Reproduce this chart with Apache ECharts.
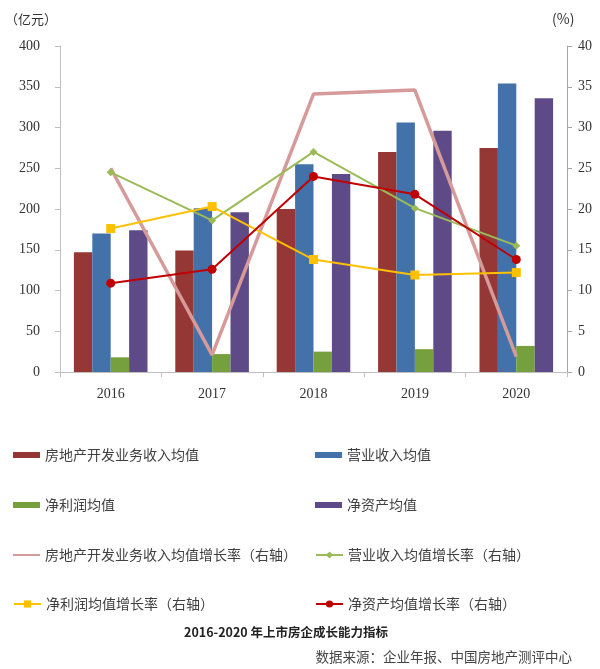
<!DOCTYPE html>
<html>
<head>
<meta charset="utf-8">
<script src="https://cdn.jsdelivr.net/npm/echarts@6/dist/echarts.min.js"></script>
<style>html,body{margin:0;padding:0;background:#fff;}#main{width:600px;height:669px;}</style>
</head>
<body>
<div id="main"></div>
<script>
var years = ['2016', '2017', '2018', '2019', '2020'];
var landDevAvg = [147, 149, 200, 270, 275];
var revenueAvg = [170, 201, 255, 306, 354];
var profitAvg = [18, 22, 25, 28, 32];
var netAssetAvg = [174, 196, 243, 296, 336];
var landDevGrowth = [25.0, 2.1, 34.1, 34.6, 1.9];
var revenueGrowth = [24.5, 18.6, 27.0, 20.1, 15.5];
var profitGrowth = [17.6, 20.3, 13.8, 11.9, 12.2];
var netAssetGrowth = [10.9, 12.6, 24.0, 21.8, 13.8];
var names = ['房地产开发业务收入均值', '营业收入均值', '净利润均值', '净资产均值',
  '房地产开发业务收入均值增长率（右轴）', '营业收入均值增长率（右轴）',
  '净利润均值增长率（右轴）', '净资产均值增长率（右轴）'];
var colors = ['#953735', '#4372AA', '#76A03E', '#5F4A88', '#D69A9A', '#9BBB59', '#FFC000', '#C00000'];

var cjk = '"Noto Sans CJK SC", sans-serif';
var serif = '"Liberation Serif", serif';
var chart = echarts.init(document.getElementById('main'));

function legendAt(i, left, top, kind) {
  var item = { name: names[i] };
  var h = 9;
  if (kind === 'bar') { item.icon = 'rect'; h = 6; }
  if (kind === 'plain') { item.icon = 'rect'; h = 2; }
  return {
    data: [item], left: left, top: top, orient: 'horizontal',
    itemWidth: 27, itemHeight: h, padding: 0,
    textStyle: { fontSize: 14, color: '#404040', fontFamily: cjk },
    selectedMode: false
  };
}
var cx1 = 13, cx2 = 315;
var rows = [448, 498, 548, 597];

var option = {
  animation: false,
  color: colors,
  grid: { left: 60, right: 33, top: 46, bottom: 297 },
  legend: [
    legendAt(0, cx1, rows[0], 'bar'), legendAt(1, cx2, rows[0], 'bar'),
    legendAt(2, cx1, rows[1], 'bar'), legendAt(3, cx2, rows[1], 'bar'),
    legendAt(4, cx1, rows[2], 'plain'), legendAt(5, cx2, rows[2], 'line'),
    legendAt(6, cx1, rows[3], 'line'), legendAt(7, cx2, rows[3], 'line')
  ],
  xAxis: {
    type: 'category', data: years,
    axisLine: { lineStyle: { color: '#BFBFBF', width: 1 } },
    axisTick: { show: true, length: 5, lineStyle: { color: '#BFBFBF' } },
    axisLabel: { margin: 15, fontSize: 14, color: '#333', fontFamily: serif }
  },
  yAxis: [
    {
      type: 'value', min: 0, max: 400, interval: 50,
      splitLine: { show: false },
      axisLine: { show: true, lineStyle: { color: '#BFBFBF' } },
      axisTick: { show: true, length: 5, lineStyle: { color: '#BFBFBF' } },
      axisLabel: { margin: 20, fontSize: 14, color: '#333', fontFamily: serif }
    },
    {
      type: 'value', min: 0, max: 40, interval: 5, position: 'right',
      splitLine: { show: false },
      axisLine: { show: true, lineStyle: { color: '#A6A6A6' } },
      axisTick: { show: true, length: 5, lineStyle: { color: '#A6A6A6' } },
      axisLabel: { margin: 11, fontSize: 14, color: '#333', fontFamily: serif }
    }
  ],
  series: [
    { name: names[0], type: 'bar', data: landDevAvg, barWidth: 18.4, barGap: '0%' },
    { name: names[1], type: 'bar', data: revenueAvg, barWidth: 18.4, barGap: '0%' },
    { name: names[2], type: 'bar', data: profitAvg, barWidth: 18.4, barGap: '0%' },
    { name: names[3], type: 'bar', data: netAssetAvg, barWidth: 18.4, barGap: '0%' },
    { name: names[4], type: 'line', yAxisIndex: 1, data: landDevGrowth, symbol: 'none',
      lineStyle: { width: 3.5, color: colors[4] }, itemStyle: { color: colors[4] } },
    { name: names[5], type: 'line', yAxisIndex: 1, data: revenueGrowth, symbol: 'diamond', symbolSize: 8,
      lineStyle: { width: 2, color: colors[5] }, itemStyle: { color: colors[5] } },
    { name: names[6], type: 'line', yAxisIndex: 1, data: profitGrowth, symbol: 'rect', symbolSize: 9,
      lineStyle: { width: 2, color: colors[6] }, itemStyle: { color: colors[6] } },
    { name: names[7], type: 'line', yAxisIndex: 1, data: netAssetGrowth, symbol: 'circle', symbolSize: 9,
      lineStyle: { width: 2, color: colors[7] }, itemStyle: { color: colors[7] } }
  ],
  graphic: [
    { type: 'text', left: 5, top: 13, style: { text: '（亿元）', fill: '#333', font: '13px ' + cjk } },
    { type: 'text', left: 552, top: 12, style: { text: '(%)', fill: '#333', font: '14px ' + cjk } },
    { type: 'text', x: 286, y: 632, style: { text: '2016-2020 年上市房企成长能力指标', textAlign: 'center', textVerticalAlign: 'middle', font: 'bold 12.5px ' + cjk, fill: '#222' } },
    { type: 'text', x: 572, y: 657, style: { text: '数据来源：企业年报、中国房地产测评中心', textAlign: 'right', textVerticalAlign: 'middle', font: '13.5px ' + cjk, fill: '#444' } }
  ]
};
chart.setOption(option);
</script>
</body>
</html>
